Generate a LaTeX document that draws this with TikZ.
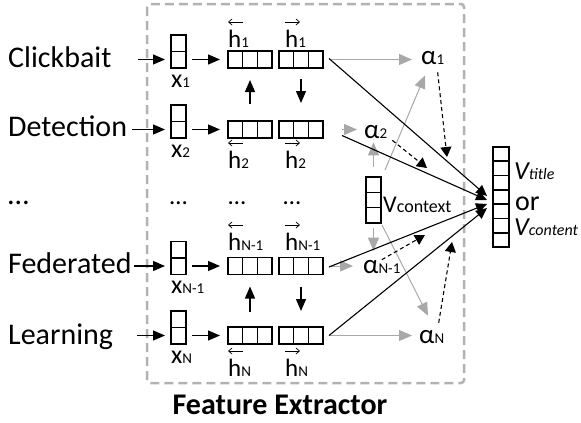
\documentclass[tikz,border=0pt]{standalone}
\usepackage{fontspec}
\setmainfont{Carlito}
\usetikzlibrary{arrows.meta,calc}
\definecolor{framegray}{RGB}{178,178,178}
\definecolor{arrowgray}{RGB}{168,168,168}
\newcommand\sbs[1]{{\fontsize{15}{15}\selectfont #1}}
\newcommand\sbl[1]{{\fontsize{18}{18}\selectfont #1}}
\newcommand\sbo[1]{{\fontsize{16}{16}\selectfont #1}}
\begin{document}
\begin{tikzpicture}[x=1pt,y=-1pt,
  vbox/.style={draw, line width=1.6pt, inner sep=0pt, outer sep=0pt},
  hsplit/.style={path picture={\foreach \i in {1,...,#1}{\draw[line width=1.6pt] ($(path picture bounding box.north west)!{\i/(#1+1)}!(path picture bounding box.north east)$) -- ($(path picture bounding box.south west)!{\i/(#1+1)}!(path picture bounding box.south east)$);}}},
  vsplit/.style={path picture={\foreach \i in {1,...,#1}{\draw[line width=1.6pt] ($(path picture bounding box.north west)!{\i/(#1+1)}!(path picture bounding box.south west)$) -- ($(path picture bounding box.north east)!{\i/(#1+1)}!(path picture bounding box.south east)$);}}},
  hvec/.style={vbox, minimum width=44pt, minimum height=17pt, hsplit=2},
  xvec/.style={vbox, minimum width=15pt, minimum height=33pt, vsplit=1},
  word/.style={font=\fontsize{30}{30}\selectfont, anchor=base west, inner sep=0pt},
  lab/.style={font=\fontsize{25}{25}\selectfont, anchor=base west, inner sep=0pt},
  big/.style={font=\fontsize{26}{26}\selectfont, anchor=base west, inner sep=0pt},
  blk/.style={line width=1.3pt, -{Triangle[length=12pt,width=10pt]}},
  garr/.style={arrowgray, line width=1pt, -{Triangle[length=13pt,width=11pt]}},
  bline/.style={line width=1.1pt, -{Triangle[length=11pt,width=10pt]}},
  dsh/.style={line width=1.1pt, dash pattern=on 4pt off 3pt, -{Triangle[length=10pt,width=11pt]}},
  accl/.style={line width=0.7pt, {Straight Barb[length=3.5pt,width=6pt]}-},
  accr/.style={line width=0.7pt, -{Straight Barb[length=3.5pt,width=6pt]}},
]
\useasboundingbox (0,0) rectangle (581,423);

% frame
\draw[framegray, line width=2.5pt, dash pattern=on 9pt off 5pt, rounded corners=3pt] (147,4) rectangle (464,383);

% words
\node[word] (w1) at (8,67.5) {Clickbait};
\node[word] (w2) at (8,136.5) {Detection};
\node[word] (w0) at (8,204) {…};
\node[word] (w3) at (8,273) {Federated};
\node[word] (w4) at (8,344) {Learning};
\coordinate (s1) at (138,59.5);
\coordinate (s2) at (132,129.5);
\coordinate (s3) at (134,266);
\coordinate (s4) at (137,335.5);

% rows
\foreach \k/\y in {1/59.5,2/129.5,3/266,4/335.5}{
  \node[xvec] (xb\k) at (178.5,\y-8) {};
  \node[hvec] (lb\k) at (250,\y) {};
  \node[hvec] (rb\k) at (301,\y) {};
  \draw[blk, shorten >=6pt] (s\k) -- (xb\k.west |- lb\k.west);
  \draw[blk, shorten <=6pt, shorten >=8pt] (xb\k.east |- lb\k.west) -- (lb\k.west);
}

% labels of h and x
\node[lab] (lh1) at (228,47) {h\sbs{1}};
\node[lab] (rh1) at (285,47) {h\sbs{1}};
\node[lab] (lh2) at (228,168) {h\sbs{2}};
\node[lab] (rh2) at (285,168) {h\sbs{2}};
\node[lab] (lh3) at (228,250) {h\sbs{N-1}};
\node[lab] (rh3) at (285,250) {h\sbs{N-1}};
\node[lab] (lh4) at (228,376) {h\sbs{N}};
\node[lab] (rh4) at (285,376) {h\sbs{N}};
\foreach \k in {1,2,3,4}{
  \draw[accl] ($(lh\k.base west)+(0,-25)$) -- ++(15,0);
  \draw[accr] ($(rh\k.base west)+(0,-25)$) -- ++(15,0);
}
\node[big] (xl1) at (171,87) {x\sbs{1}};
\node[big] (xl2) at (171,157) {x\sbs{2}};
\node[big] (xl3) at (171,293.5) {x\sbs{N-1}};
\node[big] (xl4) at (171,363.5) {x\sbs{N}};

% dots
\node[lab, anchor=base] (dt1) at (178.5,204) {…};
\node[lab, anchor=base] (dt2) at (237,204) {…};
\node[lab, anchor=base] (dt3) at (292,204) {…};

% vertical arrows
\draw[blk, shorten <=17pt, shorten >=12pt] (lb2.north) -- (lb1.south);
\draw[blk, shorten <=11pt, shorten >=18pt] (rb1.south) -- (rb2.north);
\draw[blk, shorten <=15pt, shorten >=12pt] (lb4.north) -- (lb3.south);
\draw[blk, shorten <=12pt, shorten >=16pt] (rb3.south) -- (rb4.north);

% alphas
\node[big, font=\fontsize{27}{27}\selectfont] (al1) at (421,64) {α\sbs{1}};
\node[big, font=\fontsize{27}{27}\selectfont] (al2) at (364,138) {α\sbs{2}};
\node[big, font=\fontsize{27}{27}\selectfont] (al3) at (363,273) {α\sbs{N-1}};
\node[big, font=\fontsize{27}{27}\selectfont] (al4) at (419,343) {α\sbs{N}};

% context vector
\node[vbox, minimum width=15pt, minimum height=46pt, vsplit=2] (ctx) at (373.5,200) {};
\node[lab, font=\fontsize{24}{24}\selectfont] (ctxl) at (383,212) {V\sbl{context}};

% output vector
\node[vbox, minimum width=16pt, minimum height=100pt, vsplit=6] (out) at (501,197) {};
\node[font=\fontsize{26}{26}\selectfont\itshape, anchor=base west, inner sep=0pt] (vt) at (514,179) {V\sbo{title}};
\node[font=\fontsize{28}{28}\selectfont, anchor=base west, inner sep=0pt] (orl) at (515,210) {or};
\node[font=\fontsize{26}{26}\selectfont\itshape, anchor=base west, inner sep=0pt] (vc) at (514,235) {V\sbo{content}};

% gray arrows from h to alpha
\draw[garr, shorten <=6pt, shorten >=9pt] (rb1.east) -- (al1.west |- rb1.east);
\draw[garr, shorten <=19pt, shorten >=7pt] (rb2.east) -- (al2.west |- rb2.east);
\draw[garr, shorten <=6pt, shorten >=10pt] (rb3.east) -- (al3.west |- rb3.east);
\draw[garr, shorten <=6pt, shorten >=7pt] (rb4.east) -- (al4.west |- rb4.east);

% gray arrows from context to alpha
\draw[garr, shorten <=10pt, shorten >=4pt] (ctx.north) -- (ctx.north |- al2.south);
\draw[garr] ($(ctx.north east)+(4,-7)$) -- ($(al1.south west)+(4,11)$);
\draw[garr, shorten <=5pt, shorten >=9pt] (ctx.south) -- (ctx.south |- al3.north);
\draw[garr] ($(ctx.south east)+(1,2)$) -- ($(al4.north west)+(9,-14)$);

% black lines to output
\draw[bline] ($(rb1.east)+(6,-1)$) -- ($(out.west)+(-6,-1)$);
\draw[bline] ($(rb2.east)+(19,6)$) -- ($(out.west)+(-6,3)$);
\draw[bline] ($(rb3.east)+(6,1)$) -- ($(out.west)+(-6,7)$);
\draw[bline] ($(rb4.east)+(6,0)$) -- ($(out.west)+(-6,11)$);

% dashed attention arrows
\coordinate (d1) at (447,157);
\coordinate (d2) at (427,168);
\coordinate (d3) at (425,235);
\coordinate (d4) at (452,242);
\draw[dsh] ($(al1.south)+(5,8)$) -- (d1);
\draw[dsh] ($(al2.south east)+(5,2)$) -- (d2);
\draw[dsh] (al3.north) -- (d3);
\draw[dsh] ($(al4.north)+(7,-7)$) -- (d4);

% title
\node[font=\fontsize{30}{30}\selectfont\bfseries, anchor=base, inner sep=0pt] (fe) at (280,414) {Feature Extractor};
\end{tikzpicture}
\end{document}
